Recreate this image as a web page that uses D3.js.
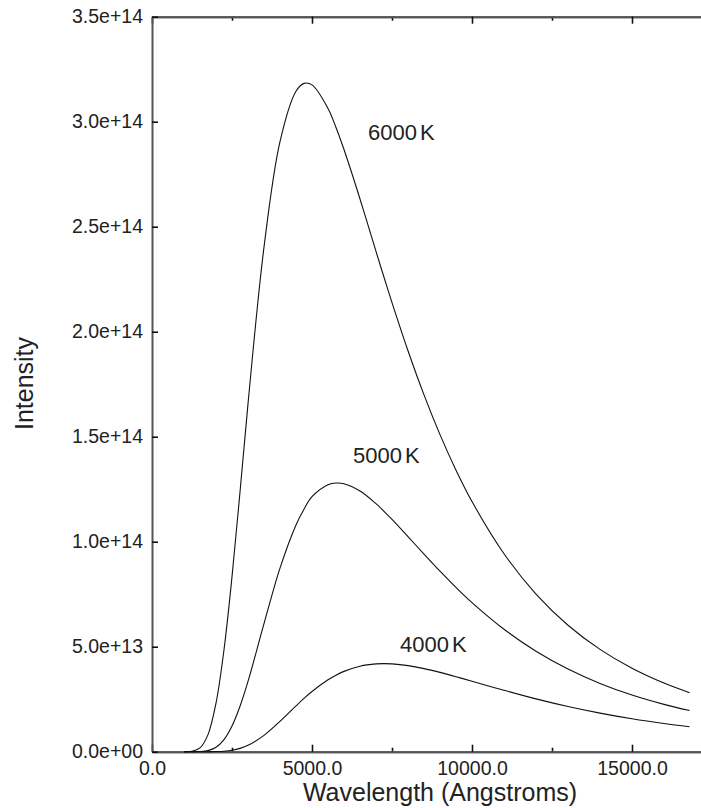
<!DOCTYPE html>
<html>
<head>
<meta charset="utf-8">
<script src="https://cdn.jsdelivr.net/npm/d3@7"></script>
<style>
  body { margin: 0; background: #fff; }
  svg { display: block; font-family: "Liberation Sans", Arial, sans-serif; }
</style>
</head>
<body>
<div id="chart"></div>
<script>
// wavelengths in Angstroms
const wavelengths = [1000, 1250, 1500, 1750, 2000, 2250, 2500, 2750, 3000, 3500, 4000, 4500, 4750,
  5000, 5500, 5750, 6000, 6500, 7000, 7250, 7500, 8000, 8500, 9000, 9500, 10000,
  11000, 12000, 13000, 14000, 15000, 16000, 16800];

// intensities, in units of 1e14
const t6000 = [0.0000, 0.0018, 0.0179, 0.0812, 0.2310, 0.4856, 0.8328, 1.2367, 1.6565, 2.4026, 2.9048, 3.1449, 3.1824,
  3.1752, 3.0632, 2.9727, 2.8674, 2.6320, 2.3824, 2.2592, 2.1387, 1.9094, 1.6992, 1.5098, 1.3406, 1.1910,
  0.9425, 0.7506, 0.6023, 0.4872, 0.3974, 0.3267, 0.2809];
const t5000 = [0.0000, 0.0000, 0.0007, 0.0052, 0.0210, 0.0577, 0.1223, 0.2162, 0.3347, 0.6096, 0.8742, 1.0799, 1.1548,
  1.2142, 1.2712, 1.2796, 1.2760, 1.2413, 1.1810, 1.1449, 1.1060, 1.0242, 0.9408, 0.8595, 0.7822, 0.7101,
  0.5832, 0.4786, 0.3937, 0.3252, 0.2699, 0.2253, 0.1958];
const t4000 = [0.0000, 0.0000, 0.0000, 0.0001, 0.0006, 0.0024, 0.0069, 0.0158, 0.0304, 0.0780, 0.1446, 0.2180, 0.2535,
  0.2865, 0.3423, 0.3644, 0.3825, 0.4072, 0.4181, 0.4193, 0.4181, 0.4098, 0.3957, 0.3776, 0.3572, 0.3356,
  0.2922, 0.2515, 0.2152, 0.1837, 0.1568, 0.1341, 0.1185];

const seriesNames = ["6000", "5000", "4000"];
// label anchor (wavelength, intensity) for each curve label
const labelWave = [6750, 6280, 7750];
const labelValue = [2.913, 1.375, 0.475];

const xMajorTicks = [0, 5000, 10000, 15000];
const xMinorTicks = [2500, 7500, 12500, 17500];
const yTicks = [0, 0.5, 1.0, 1.5, 2.0, 2.5, 3.0, 3.5];

const width = 701, height = 808;
const plotLeft = 152, plotTop = 16.7, plotBottom = 751.7;

const svg = d3.select("#chart").append("svg")
  .attr("width", width)
  .attr("height", height);

const x = d3.scaleLinear().domain([0, 17500]).range([plotLeft, plotLeft + 560]);
const y = d3.scaleLinear().domain([0, 3.5]).range([plotBottom, plotTop]);

const fmtY = d => d === 0 ? "0.0e+00" : d3.format(".1e")(d * 1e14);

function styleAxis(g, labels) {
  g.select(".domain").attr("stroke", "#555").attr("stroke-width", 2);
  g.selectAll(".tick line").attr("stroke", "#111").attr("stroke-width", 1.6);
  g.selectAll(".tick text").attr("fill", "#222").attr("font-size", 19.5)
    .attr("font-family", "Liberation Sans, Arial, sans-serif");
  if (!labels) g.selectAll(".tick text").remove();
}

// bottom axis
svg.append("g")
  .attr("transform", `translate(0,${plotBottom})`)
  .call(d3.axisBottom(x).tickValues(xMinorTicks).tickSize(-4).tickSizeOuter(0))
  .call(g => styleAxis(g, false));
svg.append("g")
  .attr("transform", `translate(0,${plotBottom})`)
  .call(d3.axisBottom(x).tickValues(xMajorTicks).tickSize(-7).tickSizeOuter(0)
    .tickPadding(9).tickFormat(d3.format(".1f")))
  .call(g => styleAxis(g, true));

// top axis
svg.append("g")
  .attr("transform", `translate(0,${plotTop})`)
  .call(d3.axisTop(x).tickValues(xMinorTicks).tickSize(-4).tickSizeOuter(0))
  .call(g => styleAxis(g, false));
svg.append("g")
  .attr("transform", `translate(0,${plotTop})`)
  .call(d3.axisTop(x).tickValues(xMajorTicks).tickSize(-7).tickSizeOuter(0))
  .call(g => styleAxis(g, false));

// left axis
svg.append("g")
  .attr("transform", `translate(${plotLeft},0)`)
  .call(d3.axisLeft(y).tickValues(yTicks).tickSize(-6).tickSizeOuter(0)
    .tickPadding(9).tickFormat(fmtY))
  .call(g => styleAxis(g, true));

// curves
const line = d3.line()
  .x((d, i) => x(wavelengths[i]))
  .y(d => y(d))
  .curve(d3.curveCatmullRom.alpha(0.5));

svg.append("g")
  .attr("fill", "none")
  .attr("stroke", "#111")
  .attr("stroke-width", 1.1)
  .selectAll("path")
  .data([t6000, t5000, t4000])
  .join("path")
  .attr("d", line);

// curve labels
const lbl = svg.append("g")
  .attr("font-size", 22)
  .attr("fill", "#222")
  .selectAll("text")
  .data(seriesNames)
  .join("text")
  .attr("x", (d, i) => x(labelWave[i]))
  .attr("y", (d, i) => y(labelValue[i]))
  .text(d => d);
lbl.append("tspan").attr("dx", 3).text("K");

// axis titles
svg.append("text")
  .attr("x", 440)
  .attr("y", 801)
  .attr("text-anchor", "middle")
  .attr("font-size", 25)
  .attr("fill", "#222")
  .text("Wavelength (Angstroms)");

svg.append("text")
  .attr("transform", "translate(33,383.5) rotate(-90)")
  .attr("text-anchor", "middle")
  .attr("font-size", 25)
  .attr("fill", "#222")
  .text("Intensity");
</script>
</body>
</html>
